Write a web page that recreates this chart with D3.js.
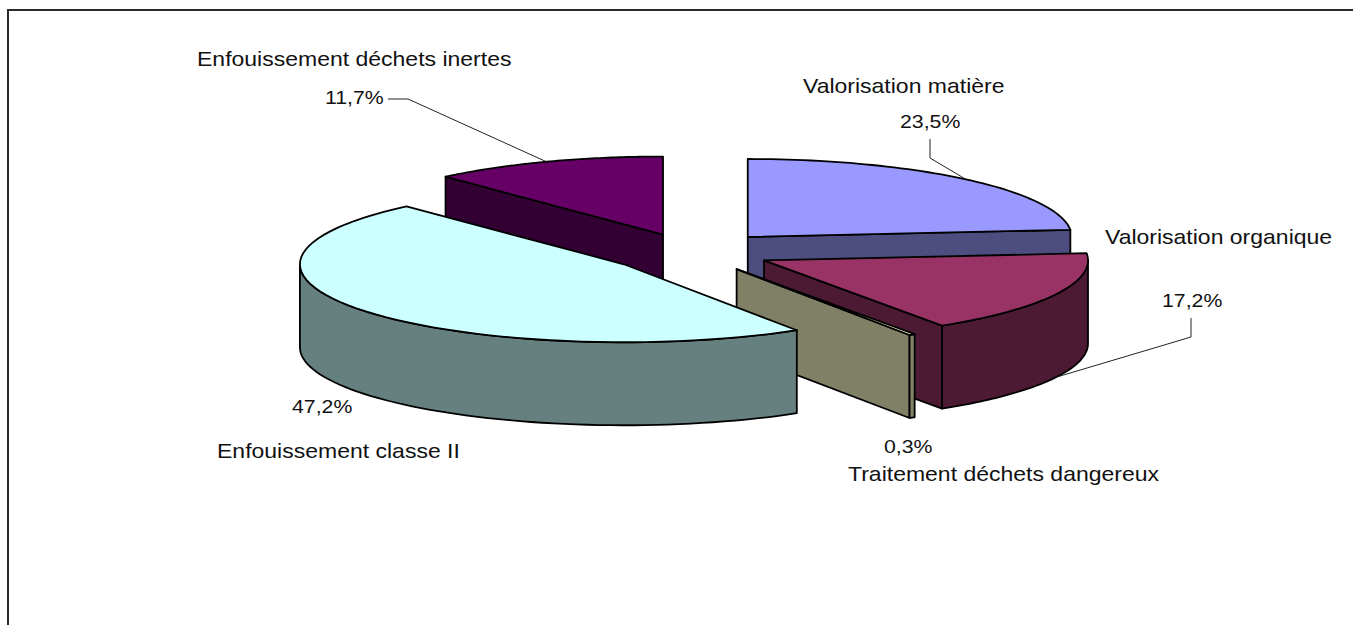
<!DOCTYPE html>
<meta charset="utf-8">
<style>
  html, body { margin: 0; background: #fff; }
  svg { display: block; }
  text { font-family: "Liberation Sans", Arial, sans-serif; fill: #111; }
  text.name { font-size: 20px; }
  text.value { font-size: 18.5px; }
</style>
<svg width="1353" height="625"></svg>
<script src="https://d3js.org/d3.v7.min.js"></script>
<script>

// Data, in clockwise order from 12 o'clock
var categories = ["Valorisation matière", "Valorisation organique", "Traitement déchets dangereux", "Enfouissement classe II", "Enfouissement déchets inertes"];
var shares = [23.5, 17.2, 0.3, 47.2, 11.7];
var shareLabels = ["23,5%", "17,2%", "0,3%", "47,2%", "11,7%"];
var topColors = ["#9999ff", "#993366", "#ffffcc", "#ccffff", "#660066"];

// Layout of the tilted pie
var svg = d3.select("svg"),
    width = +svg.attr("width"),
    height = +svg.attr("height"),
    center = {x: 691, y: 252},
    rx = 324,
    ry = 78,
    depth = 83,
    explode = [0.26, 0.25, 0.26, 0.26, 0.24],
    textStretch = 1.15; // the source image is wider than it is tall

// Unit circle to screen, a slice is moved out along its bisector
var x = d3.scaleLinear().domain([-1, 1]).range([-rx, rx]);
var y = d3.scaleLinear().domain([-1, 1]).range([-ry, ry]);

var pie = d3.pie().sort(null).value(function(d) { return d; });
var slices = pie(shares).map(function(d, i) {
  d.mid = (d.startAngle + d.endAngle) / 2;
  d.cx = center.x + x(explode[i] * Math.sin(d.mid));
  d.cy = center.y + y(-explode[i] * Math.cos(d.mid));
  d.index = i;
  return d;
});

function rim(d, a, drop) {
  return [d.cx + x(Math.sin(a)), d.cy + y(-Math.cos(a)) + (drop || 0)];
}

// Points along an arc, between two angles
function arcPoints(d, a0, a1, drop) {
  return d3.range(0, 61).map(function(k) { return rim(d, a0 + (a1 - a0) * k / 60, drop); });
}

var line = d3.line();

function sideColor(c) {
  var rgb = d3.rgb(c);
  return d3.rgb(rgb.r / 2, rgb.g / 2, rgb.b / 2).formatHex();
}

// Frame of the chart area, cut by the page on the right and bottom
svg.append("path")
    .attr("d", "M8," + height + "V10H" + width)
    .attr("fill", "none")
    .attr("stroke", "#2b2b2b")
    .attr("stroke-width", 2);

// Painter's order: back slices first, class II last
var order = [4, 0, 1, 2, 3];
var g = svg.selectAll("g.slice")
  .data(order.map(function(i) { return slices[i]; }))
  .enter().append("g")
    .attr("class", "slice")
    .attr("stroke", "#000")
    .attr("stroke-width", 1.8)
    .attr("stroke-linejoin", "round");

g.each(function(d) {
  var s = d3.select(this),
      side = sideColor(topColors[d.index]),
      tip = [d.cx, d.cy],
      tipLow = [d.cx, d.cy + depth];

  // Flat faces, only those turned to the viewer
  [[d.startAngle, Math.sin(d.startAngle) < 0], [d.endAngle, Math.sin(d.endAngle) > 0]].forEach(function(face) {
    if (!face[1]) return;
    s.append("path")
        .attr("fill", side)
        .attr("d", line([tip, rim(d, face[0]), rim(d, face[0], depth), tipLow]) + "Z");
  });

  // Outer wall, the front half of the ellipse only
  var a0 = Math.max(d.startAngle, Math.PI / 2),
      a1 = Math.min(d.endAngle, 3 * Math.PI / 2);
  if (a1 > a0) {
    s.append("path")
        .attr("fill", side)
        .attr("d", line(arcPoints(d, a0, a1).concat(arcPoints(d, a1, a0, depth))) + "Z");
  }

  // Top
  s.append("path")
      .attr("fill", topColors[d.index])
      .attr("d", line([tip].concat(arcPoints(d, d.startAngle, d.endAngle))) + "Z");
});

// Label placement by hand, same order as the categories
var namePos = [[803, 93], [1105, 244], [848, 481], [217, 458], [197, 66]];
var valuePos = [[900, 128], [1162, 307], [884, 453], [292, 413], [325, 104]];
// Leader elbows, from the label toward the slice; the last point comes from the slice
var leaders = [
  {points: [[930, 139], [930, 158]], drop: 0},
  {points: [[1191, 318], [1191, 337]], drop: depth},
  null,
  null,
  {points: [[388, 99], [408, 99]], drop: 0}
];

svg.selectAll("path.leader")
  .data(slices.filter(function(d) { return leaders[d.index]; }))
  .enter().append("path")
    .attr("class", "leader")
    .attr("fill", "none")
    .attr("stroke", "#222")
    .attr("stroke-width", 1)
    .attr("d", function(d) {
      var l = leaders[d.index];
      return line(l.points.concat([rim(d, d.mid, l.drop)]));
    });

function placeText(pos) {
  return function(d, i) {
    return "translate(" + pos[i][0] + "," + pos[i][1] + ") scale(" + textStretch + ",1)";
  };
}

svg.selectAll("text.name")
  .data(categories)
  .enter().append("text")
    .attr("class", "name")
    .attr("transform", placeText(namePos))
    .text(function(d) { return d; });

svg.selectAll("text.value")
  .data(shareLabels)
  .enter().append("text")
    .attr("class", "value")
    .attr("transform", placeText(valuePos))
    .text(function(d) { return d; });

</script>
